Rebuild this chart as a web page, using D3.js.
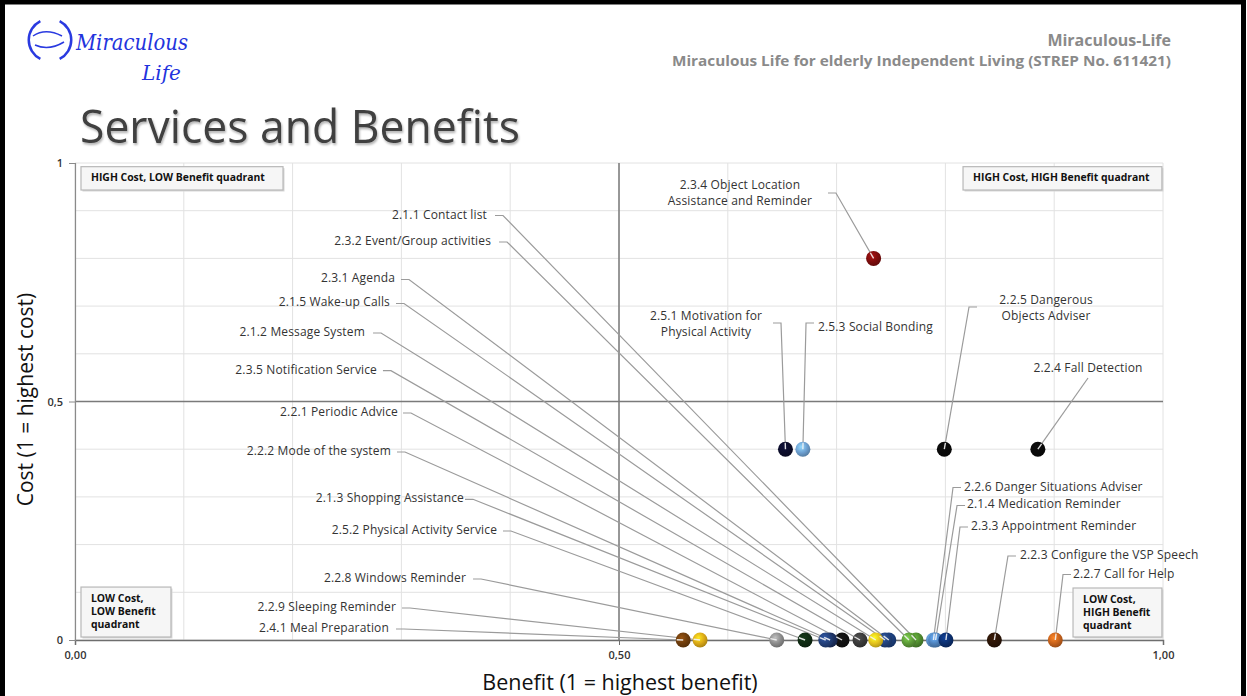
<!DOCTYPE html>
<html><head><meta charset="utf-8">
<script src="https://cdn.jsdelivr.net/npm/d3@7"></script>
<style>body{margin:0;background:#fff;} svg{display:block;font-family:"Open Sans",sans-serif;}</style>
</head><body><svg id="c" width="1247" height="696"></svg>
<script>
// ---------------- DATA ----------------
const services = [
  "2.1.1 Contact list", "2.3.2 Event/Group activities", "2.3.1 Agenda", "2.1.5 Wake-up Calls",
  "2.1.2 Message System", "2.3.5 Notification Service", "2.2.1 Periodic Advice", "2.2.2 Mode of the system",
  "2.1.3 Shopping Assistance", "2.5.2 Physical Activity Service", "2.2.8 Windows Reminder",
  "2.2.9 Sleeping Reminder", "2.4.1 Meal Preparation",
  "2.2.6 Danger Situations Adviser", "2.1.4 Medication Reminder", "2.3.3 Appointment Reminder",
  "2.2.3 Configure the VSP Speech", "2.2.7 Call for Help",
  "2.3.4 Object Location\nAssistance and Reminder", "2.5.1 Motivation for\nPhysical Activity",
  "2.5.3 Social Bonding", "2.2.5 Dangerous\nObjects Adviser", "2.2.4 Fall Detection"
];
const benefit = [0.773, 0.7665, 0.748, 0.7445, 0.736, 0.7215, 0.705, 0.694, 0.690, 0.671, 0.645, 0.5745, 0.559,
                 0.789, 0.791, 0.8005, 0.845, 0.901,
                 0.734, 0.653, 0.669, 0.799, 0.885];
const cost    = [0, 0, 0, 0, 0, 0, 0, 0, 0, 0, 0, 0, 0,
                 0, 0, 0, 0, 0,
                 0.8, 0.4, 0.4, 0.4, 0.4];
const xTickValues = [0, 0.5, 1];
const xTickLabels = ["0,00", "0,50", "1,00"];
const yTickValues = [0, 0.5, 1];
const yTickLabels = ["0", "0,5", "1"];
const quadrantNames = ["HIGH Cost, LOW Benefit quadrant", "HIGH Cost, HIGH Benefit quadrant",
                       "LOW Cost,\nLOW Benefit\nquadrant", "LOW Cost,\nHIGH Benefit\nquadrant"];
const xTitle = "Benefit (1 = highest benefit)";
const yTitle = "Cost (1 = highest cost)";

// ---------------- STYLE / LAYOUT ----------------
const pointColors = ["#4f8a2e", "#5c9a38", "#1c3f7c", "#22427c", "#e3c21c", "#3a3a3a", "#111111", "#1b2f5e",
  "#23407a", "#0f2a12", "#8c8c8c", "#dba917", "#6e3d0c",
  "#5b90c8", "#4e82bc", "#0c2f6e", "#2b1406", "#c7621c",
  "#7d0c0c", "#0b0c2a", "#6d9fd0", "#0a0a0a", "#0a0a0a"];
// [bendX, bendY, textX, textY, anchor, tickDir]  (in data units)
const labelLayout = [
  [0.3934, 0.8899, 0.3787, 0.8899, "end", -1],
  [0.3971, 0.8344, 0.3824, 0.8344, "end", -1],
  [0.3070, 0.7558, 0.2941, 0.7558, "end", -1],
  [0.3024, 0.7055, 0.2895, 0.7055, "end", -1],
  [0.2813, 0.6436, 0.2665, 0.6436, "end", -1],
  [0.2904, 0.5646, 0.2776, 0.5646, "end", -1],
  [0.3088, 0.4759, 0.2969, 0.4759, "end", -1],
  [0.3033, 0.3941, 0.2904, 0.3941, "end", -1],
  [0.3658, 0.2950, 0.3575, 0.2950, "end", -1],
  [0.4007, 0.2285, 0.3879, 0.2285, "end", -1],
  [0.3732, 0.1279, 0.3594, 0.1279, "end", -1],
  [0.3079, 0.0671, 0.2950, 0.0671, "end", -1],
  [0.3024, 0.0231, 0.2886, 0.0231, "end", -1],
  [0.8070, 0.3197, 0.8171, 0.3197, "start", 1],
  [0.8107, 0.2820, 0.8199, 0.2820, "start", 1],
  [0.8134, 0.2369, 0.8235, 0.2369, "start", 1],
  [0.8575, 0.1761, 0.8686, 0.1761, "start", 1],
  [0.9081, 0.1373, 0.9173, 0.1373, "start", 1],
  [0.6994, 0.9371, 0.6112, 0.9350, "middle", -1],
  [0.6489, 0.6646, 0.5800, 0.6604, "middle", -1],
  [0.6719, 0.6646, 0.6829, 0.6551, "start", 1],
  [0.8217, 0.6981, 0.8925, 0.6939, "middle", 1],
  [0.9311, 0.5493, 0.9311, 0.5681, "middle", 0]
];
// quadrant boxes [x0, y0, x1, y1] in data units
const quadrantBoxes = [
  [0.0055, 0.9923, 0.1912, 0.9434],
  [0.8162, 0.9923, 0.9990, 0.9434],
  [0.0055, 0.1110, 0.0882, 0.0063],
  [0.9173, 0.1090, 0.9990, 0.0063]
];

// ---------------- DRAW ----------------
const svg = d3.select("#c");
const x = d3.scaleLinear().domain([0, 1]).range([75, 1163]);
const y = d3.scaleLinear().domain([0, 1]).range([640, 163]);

// frame
svg.append("rect").attr("x", 2.5).attr("y", 2).attr("width", 1241).attr("height", 720)
  .attr("fill", "none").attr("stroke", "#000").attr("stroke-width", 5);

// logo
const logo = svg.append("g");
logo.append("path").attr("d", d3.arc()({innerRadius: 20, outerRadius: 22.5, startAngle: Math.PI*0.15, endAngle: Math.PI*0.85}))
  .attr("transform", "translate(50,40)").attr("fill", "#2a3ae0");
logo.append("path").attr("d", d3.arc()({innerRadius: 20, outerRadius: 22.5, startAngle: Math.PI*1.15, endAngle: Math.PI*1.85}))
  .attr("transform", "translate(50,40)").attr("fill", "#2a3ae0");
logo.append("path").attr("d", "M33,36 C42,30 52,31 62,36 M35,45 C44,49 54,48 64,42")
  .attr("fill", "none").attr("stroke", "#2a3ae0").attr("stroke-width", 1.5);
logo.append("text").attr("x", 76).attr("y", 50).attr("font-family", "DejaVu Serif").attr("font-style", "italic")
  .attr("font-size", 22).attr("fill", "#2233dd").attr("textLength", 112).attr("lengthAdjust", "spacingAndGlyphs").text("Miraculous");
logo.append("text").attr("x", 142).attr("y", 80).attr("font-family", "DejaVu Serif").attr("font-style", "italic")
  .attr("font-size", 20).attr("fill", "#2233dd").text("Life");

// header right
svg.append("text").attr("x", 1171).attr("y", 46).attr("text-anchor", "end").attr("font-size", 16)
  .attr("font-weight", 700).attr("fill", "#8a8a8a").text("Miraculous-Life");
svg.append("text").attr("x", 1171).attr("y", 66).attr("text-anchor", "end").attr("font-size", 13.5)
  .attr("font-weight", 700).attr("fill", "#8a8a8a").attr("textLength", 499).attr("lengthAdjust", "spacingAndGlyphs")
  .text("Miraculous Life for elderly Independent Living (STREP No. 611421)");

// title
const defs = svg.append("defs");
const sh = defs.append("filter").attr("id", "ts").attr("x", "-5%").attr("y", "-20%").attr("width", "110%").attr("height", "150%");
sh.append("feDropShadow").attr("dx", 1).attr("dy", 2).attr("stdDeviation", 1.2).attr("flood-color", "#000").attr("flood-opacity", 0.3);
svg.append("text").attr("x", 80).attr("y", 143).attr("font-size", 45).attr("fill", "#3f3f3f")
  .attr("textLength", 440).attr("lengthAdjust", "spacingAndGlyphs").attr("filter", "url(#ts)")
  .text("Services and Benefits");

// gridlines
const grid = d3.range(0, 11).map(i => i / 10);
svg.append("g").selectAll("line.gx").data(grid).join("line")
  .attr("x1", d => x(d)).attr("x2", d => x(d)).attr("y1", y(1)).attr("y2", y(0))
  .attr("stroke", "#e2e2e2").attr("stroke-width", 1);
svg.append("g").selectAll("line.gy").data(grid).join("line")
  .attr("x1", x(0)).attr("x2", x(1)).attr("y1", d => y(d)).attr("y2", d => y(d))
  .attr("stroke", "#e2e2e2").attr("stroke-width", 1);

// quadrant dividers
svg.append("line").attr("x1", x(0.5)).attr("x2", x(0.5)).attr("y1", y(1)).attr("y2", y(0))
  .attr("stroke", "#7a7a7a").attr("stroke-width", 1.5);
svg.append("line").attr("x1", x(0)).attr("x2", x(1)).attr("y1", y(0.5)).attr("y2", y(0.5))
  .attr("stroke", "#7a7a7a").attr("stroke-width", 1.5);

// axes
const xAxis = d3.axisBottom(x).tickValues(xTickValues).tickFormat((d, i) => xTickLabels[i]).tickSize(5).tickPadding(6);
const gx = svg.append("g").attr("transform", `translate(0,${y(0)})`).call(xAxis);
gx.select(".domain").attr("stroke", "#6e6e6e").attr("stroke-width", 1.5);
gx.selectAll(".tick line").attr("stroke", "#6e6e6e");
gx.selectAll("text").attr("font-family", "Open Sans").attr("font-size", 11).attr("font-weight", 600).attr("fill", "#333");
const yAxis = d3.axisLeft(y).tickValues(yTickValues).tickFormat((d, i) => yTickLabels[i]).tickSize(6).tickPadding(6);
const gy = svg.append("g").attr("transform", `translate(${x(0)},0)`).call(yAxis);
gy.select(".domain").attr("stroke", "#8a8a8a").attr("stroke-width", 1.2);
gy.selectAll(".tick line").attr("stroke", "#8a8a8a");
gy.selectAll("text").attr("font-family", "Open Sans").attr("font-size", 11).attr("font-weight", 600).attr("fill", "#333");

// axis titles
svg.append("text").attr("x", 620).attr("y", 690).attr("text-anchor", "middle").attr("font-size", 21.5)
  .attr("fill", "#111").text(xTitle);
svg.append("text").attr("transform", `translate(33,${y(0.5) - 2}) rotate(-90)`).attr("text-anchor", "middle")
  .attr("font-size", 21).attr("fill", "#111").text(yTitle);

// data items
const items = services.map((s, i) => ({
  name: s, b: benefit[i], c: cost[i], color: pointColors[i],
  bx: labelLayout[i][0], by: labelLayout[i][1], tx: labelLayout[i][2], ty: labelLayout[i][3],
  anchor: labelLayout[i][4], dir: labelLayout[i][5]
}));

// leader lines
const leaders = svg.append("g").attr("stroke", "#9b9b9b").attr("stroke-width", 1.2).attr("fill", "none");
leaders.selectAll("path").data(items).join("path")
  .attr("d", d => `M${x(d.bx) + d.dir * 8},${y(d.by)} L${x(d.bx)},${y(d.by)} L${x(d.b)},${y(d.c)}`);

// gradients
items.forEach((d, i) => {
  const g = defs.append("radialGradient").attr("id", "g" + i).attr("cx", "40%").attr("cy", "35%").attr("r", "70%");
  const c = d3.color(d.color);
  g.append("stop").attr("offset", "0%").attr("stop-color", c.brighter(0.9));
  g.append("stop").attr("offset", "55%").attr("stop-color", c);
  g.append("stop").attr("offset", "100%").attr("stop-color", c.darker(0.8));
});

// points
svg.append("g").selectAll("circle").data(items).join("circle")
  .attr("cx", d => x(d.b)).attr("cy", d => y(d.c)).attr("r", 7.5)
  .attr("fill", (d, i) => `url(#g${i})`);

// highlights (leader end inside marker)
svg.append("g").selectAll("line").data(items).join("line")
  .attr("x1", d => x(d.b)).attr("y1", d => y(d.c))
  .attr("x2", d => { const dx = x(d.bx) - x(d.b), dy = y(d.by) - y(d.c), L = Math.hypot(dx, dy); return x(d.b) + dx / L * 6.5; })
  .attr("y2", d => { const dx = x(d.bx) - x(d.b), dy = y(d.by) - y(d.c), L = Math.hypot(dx, dy); return y(d.c) + dy / L * 6.5; })
  .attr("stroke", "#f4f4f4").attr("stroke-width", 1.4).attr("stroke-opacity", 0.9);

// labels
const lab = svg.append("g").attr("font-size", 12).attr("letter-spacing", 0.15).attr("fill", "#333");
items.forEach(d => {
  const lines = d.name.split("\n");
  const lh = 15.5;
  const t = lab.append("text").attr("text-anchor", d.anchor).attr("dominant-baseline", "middle");
  lines.forEach((ln, k) => {
    t.append("tspan").attr("x", x(d.tx)).attr("y", y(d.ty) + (k - (lines.length - 1) / 2) * lh).text(ln);
  });
});

// quadrant boxes
const qb = svg.append("g");
quadrantBoxes.forEach((q, i) => {
  qb.append("rect").attr("x", x(q[0]) + 1.5).attr("y", y(q[1]) + 1.5).attr("width", x(q[2]) - x(q[0]))
    .attr("height", y(q[3]) - y(q[1])).attr("fill", "#d8d8d8");
  qb.append("rect").attr("x", x(q[0])).attr("y", y(q[1])).attr("width", x(q[2]) - x(q[0]))
    .attr("height", y(q[3]) - y(q[1])).attr("fill", "#f6f6f6").attr("stroke", "#b8b8b8").attr("stroke-width", 1.2);
  const lines = quadrantNames[i].split("\n");
  const t = qb.append("text").attr("font-size", 10.4).attr("font-weight", 700).attr("fill", "#111")
    .attr("dominant-baseline", "middle");
  lines.forEach((ln, k) => {
    t.append("tspan").attr("x", x(q[0]) + 10)
      .attr("y", (y(q[1]) + y(q[3])) / 2 + (k - (lines.length - 1) / 2) * 13).text(ln);
  });
});
</script>
</body></html>
